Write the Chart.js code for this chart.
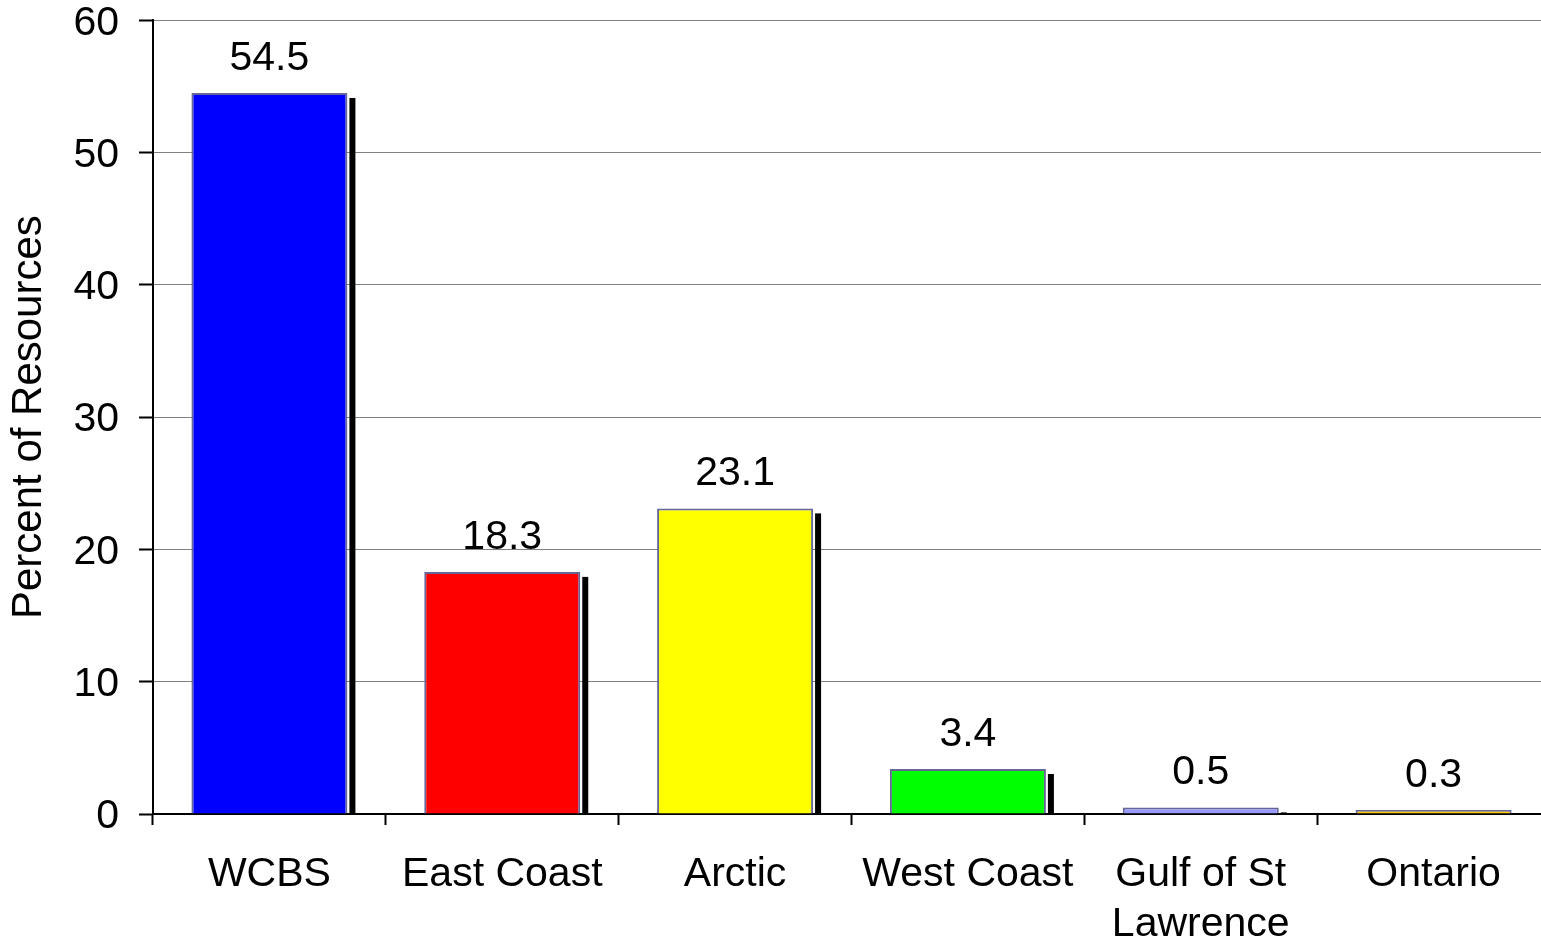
<!DOCTYPE html>
<html>
<head>
<meta charset="utf-8">
<script src="https://cdn.jsdelivr.net/npm/chart.js@4.4.1/dist/chart.umd.min.js"></script>
<style>
  html, body { margin: 0; padding: 0; background: #fff; overflow: hidden; }
  #wrap { width: 1550px; height: 943px; }
</style>
</head>
<body>
<div id="wrap"><canvas id="recursos"></canvas></div>
<script>
// dados do grafico
const regioes = ['WCBS', 'East Coast', 'Arctic', 'West Coast', ['Gulf of St', 'Lawrence'], 'Ontario'];
const percentuais = [54.5, 18.3, 23.1, 3.4, 0.5, 0.3];
const cores = ['#0000ff', '#ff0000', '#ffff00', '#00ff00', '#9999ff', '#ffcc00'];
const ticksY = [0, 10, 20, 30, 40, 50, 60];

const fonte = 'Arial, "Liberation Sans", sans-serif';

// sombra preta do lado direito de cada barra
const sombraPlugin = {
    id: 'sombra',
    beforeDatasetsDraw(chart) {
        const ctx = chart.ctx;
        const meta = chart.getDatasetMeta(0);
        ctx.save();
        ctx.fillStyle = '#000';
        meta.data.forEach(function (bar) {
            const p = bar.getProps(['x', 'y', 'width', 'base'], true);
            const topo = p.y + 5;
            const altura = p.base - topo;
            if (altura > 0) {
                ctx.fillRect(p.x + p.width / 2 + 2, topo, 6, altura);
            }
        });
        ctx.restore();
    }
};

// valores em cima das barras
const rotulosPlugin = {
    id: 'rotulos',
    afterDatasetsDraw(chart) {
        const ctx = chart.ctx;
        const meta = chart.getDatasetMeta(0);
        ctx.save();
        ctx.font = '41px ' + fonte;
        ctx.fillStyle = '#000';
        ctx.textAlign = 'center';
        ctx.textBaseline = 'alphabetic';
        meta.data.forEach(function (bar, i) {
            ctx.fillText(percentuais[i].toFixed(1), bar.x, bar.y - 23);
        });
        ctx.restore();
    }
};

const dados = {
    labels: regioes,
    datasets: [{
        data: percentuais,
        backgroundColor: cores,
        borderColor: '#666699',
        borderWidth: 2,
        borderSkipped: 'bottom',
        barPercentage: 0.67,
        categoryPercentage: 1
    }]
};

const config = {
    type: 'bar',
    data: dados,
    options: {
        responsive: true,
        maintainAspectRatio: false,
        animation: false,
        layout: { padding: 0 },
        plugins: {
            legend: { display: false },
            tooltip: { enabled: false }
        },
        scales: {
            x: {
                afterFit: function (s) { s.height = 129; },
                border: { color: '#000', width: 2 },
                grid: {
                    display: true,
                    offset: true,
                    drawOnChartArea: false,
                    drawTicks: true,
                    tickLength: 11,
                    tickColor: '#000',
                    tickWidth: 2
                },
                ticks: {
                    color: '#000',
                    font: { family: fonte, size: 41, lineHeight: 1.22 },
                    padding: 25,
                    maxRotation: 0,
                    autoSkip: false
                }
            },
            y: {
                min: 0,
                max: 60,
                afterFit: function (s) { s.width = 153; },
                afterBuildTicks: function (s) { s.ticks = ticksY.map(v => ({ value: v })); },
                border: { color: '#000', width: 2 },
                grid: {
                    color: '#808080',
                    lineWidth: 1,
                    tickLength: 14,
                    tickColor: '#000',
                    tickWidth: 2
                },
                ticks: {
                    color: '#000',
                    font: { family: fonte, size: 41, lineHeight: 0.01 },
                    padding: 20,
                    labelOffset: 3
                },
                title: {
                    display: true,
                    text: 'Percent of Resources',
                    color: '#000',
                    font: { family: fonte, size: 42, lineHeight: 1.2 },
                    padding: { top: 4, bottom: 0 }
                }
            }
        }
    },
    plugins: [sombraPlugin, rotulosPlugin]
};

let graficoRecursos = new Chart(document.getElementById('recursos'), config);
</script>
</body>
</html>
